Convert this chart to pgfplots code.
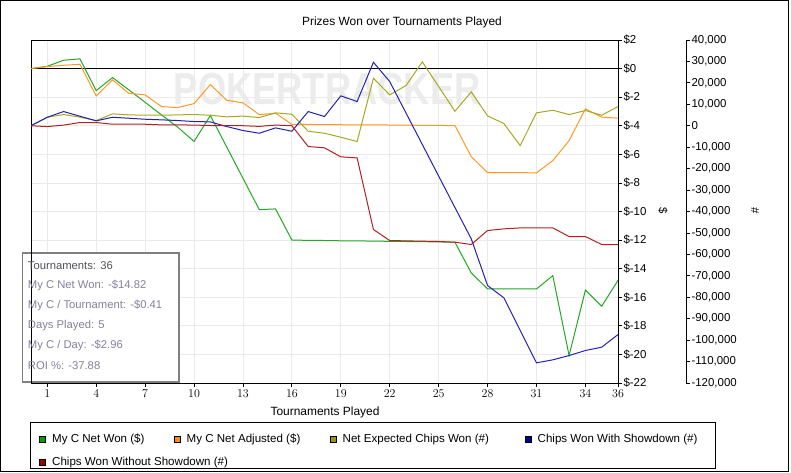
\documentclass[border=0pt]{standalone}
\usepackage{pgfplots}
\pgfplotsset{compat=1.18}
\usepackage{fontspec}
\setmainfont{Liberation Sans}
\definecolor{cgreen}{RGB}{34,168,34}
\definecolor{corange}{RGB}{255,152,36}
\definecolor{colive}{RGB}{168,168,32}
\definecolor{cblue}{RGB}{34,34,178}
\definecolor{cred}{RGB}{176,34,34}
\definecolor{sgreen}{RGB}{0,160,0}
\definecolor{sorange}{RGB}{255,140,0}
\definecolor{solive}{RGB}{153,153,0}
\definecolor{sblue}{RGB}{0,0,153}
\definecolor{sred}{RGB}{153,0,0}
\definecolor{gridgray}{RGB}{234,234,234}
\definecolor{infodark}{RGB}{85,80,90}
\definecolor{infolight}{RGB}{135,128,155}
\definecolor{wm}{RGB}{236,236,236}

\pgfplotstableread{
i green orange
0 0 0
1 0.16 0.14
2 0.58 0.23
3 0.68 0.30
4 -1.54 -1.91
5 -0.63 -0.79
6 -1.49 -1.73
7 -2.36 -1.84
8 -3.24 -2.66
9 -4.10 -2.73
10 -5.10 -2.45
11 -3.29 -1.12
12 -5.48 -2.22
13 -7.68 -2.40
14 -9.87 -3.22
15 -9.82 -3.13
16 -12.00 -3.90
17 -12.02 -3.91
18 -12.03 -3.92
19 -12.05 -3.93
20 -12.06 -3.94
21 -12.07 -3.94
22 -12.09 -3.95
23 -12.10 -3.96
24 -12.11 -3.97
25 -12.13 -3.98
26 -12.15 -3.99
27 -14.30 -6.16
28 -15.42 -7.28
29 -15.42 -7.28
30 -15.42 -7.28
31 -15.42 -7.30
32 -14.49 -6.44
33 -20.08 -5.04
34 -15.50 -2.82
35 -16.63 -3.40
36 -14.82 -3.47
}\dollartable

\pgfplotstableread{
i olive blue red
0 0 0 0
1 3960 3960 -400
2 5220 6620 300
3 4000 4430 1500
4 2420 2280 1500
5 5550 3960 700
6 5080 3500 700
7 4900 3030 700
8 4900 2750 400
9 5080 2420 400
10 5220 1960 300
11 4900 1800 100
12 4150 -370 0
13 4500 -2240 0
14 3820 -3500 -300
15 6000 -1000 300
16 5360 -2570 0
17 -2560 6620 -9700
18 -3500 4290 -10300
19 -5360 13940 -14500
20 -7370 11290 -15000
21 22150 29600 -48400
22 14400 20600 -53550
23 18750 5920 -53700
24 29800 -8770 -53850
25 18280 -23470 -54000
26 6770 -38150 -54330
27 15800 -52750 -55400
28 4600 -74530 -48880
29 1030 -80270 -48100
30 -9240 -95420 -47650
31 6000 -110600 -47650
32 7230 -109200 -47650
33 5220 -107200 -51680
34 7090 -104850 -51680
35 4900 -103300 -55400
36 8950 -97400 -55400
}\chipstable

\begin{document}
\begin{tikzpicture}[x=1bp,y=1bp]
\useasboundingbox (0,0) rectangle (791,473);
% watermark
\node[wm, font=\fontsize{45}{45}\selectfont\bfseries, xscale=0.81, anchor=west] at (171,384) {POKERTRACKER};

% $ axis
\begin{axis}[
  at={(31bp,90bp)}, anchor=south west,
  scale only axis, width=587bp, height=343bp,
  xmin=0, xmax=36, ymin=-22, ymax=2,
  xtick={1,4,7,10,13,16,19,22,25,28,31,34,36},
  ytick={-22,-20,-18,-16,-14,-12,-10,-8,-6,-4,-2,0,2},
  yticklabels={\$-22,\$-20,\$-18,\$-16,\$-14,\$-12,\$-10,\$-8,\$-6,\$-4,\$-2,\$0,\$2},
  xtick pos=lower, ytick pos=right, yticklabel pos=right,
  tick align=outside, major tick length=4bp,
  tick style={black, line width=0.8bp},
  grid=major, grid style={gridgray, line width=0.8bp},
  axis line style={black, line width=0.8bp},
  ticklabel style={font=\fontsize{11.5}{12}\selectfont},
  yticklabel style={anchor=west, xshift=-2bp},
  xticklabel style={yshift=1bp},
]
\draw[black, line width=0.8bp] (axis cs:0,0) -- (axis cs:36,0);
\addplot[cgreen, line width=1bp] table[x=i, y=green] {\dollartable};
\addplot[corange, line width=1bp] table[x=i, y=orange] {\dollartable};
\end{axis}

% # data
\begin{axis}[
  at={(31bp,90bp)}, anchor=south west,
  scale only axis, width=587bp, height=343bp,
  xmin=0, xmax=36, ymin=-120000, ymax=40000,
  hide axis,
]
\addplot[colive, line width=1bp] table[x=i, y=olive] {\chipstable};
\addplot[cblue, line width=1bp] table[x=i, y=blue] {\chipstable};
\addplot[cred, line width=1bp] table[x=i, y=red] {\chipstable};
\end{axis}

% # scale
\begin{axis}[
  at={(31bp,90bp)}, anchor=south west,
  scale only axis, width=655bp, height=343bp,
  xmin=0, xmax=1, ymin=-120000, ymax=40000,
  axis x line=none, axis y line*=right,
  axis line style={black, line width=0.8bp, -},
  ytick={-120000,-110000,-100000,-90000,-80000,-70000,-60000,-50000,-40000,-30000,-20000,-10000,0,10000,20000,30000,40000},
  yticklabels={{-120,000},{-110,000},{-100,000},{-90,000},{-80,000},{-70,000},{-60,000},{-50,000},{-40,000},{-30,000},{-20,000},{-10,000},0,{10,000},{20,000},{30,000},{40,000}},
  scaled y ticks=false,
  tick align=outside, major tick length=4bp,
  tick style={black, line width=0.8bp},
  ticklabel style={font=\fontsize{11.5}{12}\selectfont},
  yticklabel style={anchor=west, xshift=-2bp},
]
\end{axis}

% title and labels
\node[font=\fontsize{12}{13}\selectfont] at (402,451) {Prizes Won over Tournaments Played};
\node[font=\fontsize{12}{13}\selectfont] at (325,61) {Tournaments Played};
\node[font=\fontsize{11.5}{12}\selectfont, rotate=-90] at (663,262) {\$};
\node[font=\fontsize{11.5}{12}\selectfont, rotate=-90] at (755,262) {\#};

% info box
\draw[fill=white, draw={rgb,255:red,128;green,128;blue,128}, line width=1.2bp] (22.7,91) rectangle (179,220);
\draw[black, line width=0.8bp] (31,90) -- (31,220.6);
\begin{scope}[every node/.style={anchor=west, font=\fontsize{11.3}{12}\selectfont, inner sep=0pt}]
\node[infodark] at (27.7,207.3) {Tournaments: 36};
\node[infolight] at (27.7,187) {My C Net Won: -\$14.82};
\node[infolight] at (27.7,167) {My C / Tournament: -\$0.41};
\node[infolight] at (27.7,147) {Days Played: 5};
\node[infolight] at (27.7,127) {My C / Day: -\$2.96};
\node[infolight] at (27.7,107.3) {ROI \%: -37.88};
\end{scope}

% legend
\draw[black, line width=1bp] (30,4) rectangle (715.3,50);
\begin{scope}[every node/.style={anchor=west, font=\fontsize{11.6}{12}\selectfont, inner sep=0pt}]
\draw[black, fill=sgreen, line width=0.7bp] (39.5,30.5) rectangle (45.8,36.8);
\node at (52,33.7) {My C Net Won (\$)};
\draw[black, fill=sorange, line width=0.7bp] (174.2,30.5) rectangle (180.5,36.8);
\node at (186.5,33.7) {My C Net Adjusted (\$)};
\draw[black, fill=solive, line width=0.7bp] (330.2,30.5) rectangle (336.5,36.8);
\node at (342.5,33.7) {Net Expected Chips Won (\#)};
\draw[black, fill=sblue, line width=0.7bp] (525.2,30.5) rectangle (531.5,36.8);
\node at (537.5,33.7) {Chips Won With Showdown (\#)};
\draw[black, fill=sred, line width=0.7bp] (39.5,7.2) rectangle (45.8,13.5);
\node at (52,10.3) {Chips Won Without Showdown (\#)};
\end{scope}

% outer frame
\draw[black, line width=1bp] (0.5,1.3) rectangle (788.3,472.5);
\end{tikzpicture}
\end{document}
